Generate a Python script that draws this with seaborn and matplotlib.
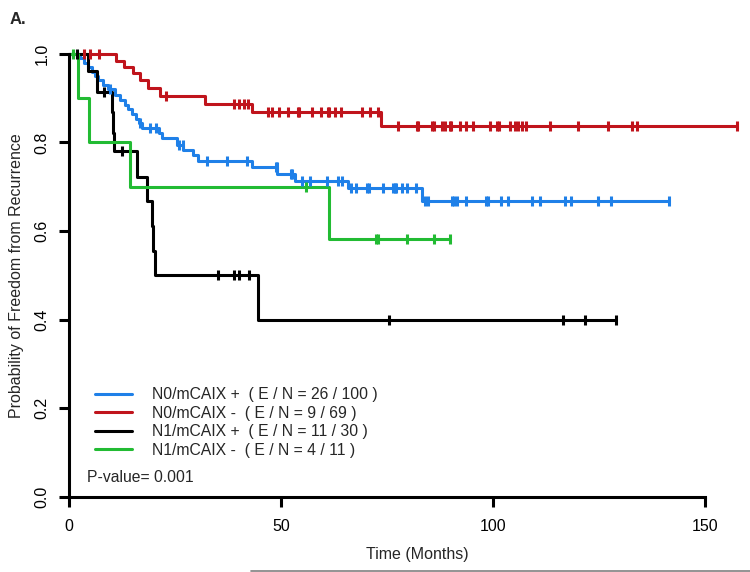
import numpy as np
import pandas as pd
import matplotlib
matplotlib.use('Agg')
import matplotlib.pyplot as plt
from matplotlib.lines import Line2D
import seaborn as sns

# Kaplan-Meier step data (months, survival after each event)
groups = ['N0/mCAIX +', 'N0/mCAIX -', 'N1/mCAIX +', 'N1/mCAIX -']
labels = ['N0/mCAIX +  ( E / N = 26 / 100 )',
          'N0/mCAIX -  ( E / N = 9 / 69 )',
          'N1/mCAIX +  ( E / N = 11 / 30 )',
          'N1/mCAIX -  ( E / N = 4 / 11 )']
colors = ['#1f80e8', '#c0141c', '#000000', '#22bb33']

blue_event_t = [2.5, 3.5, 4.5, 5.5, 6.2, 6.9, 8.0, 9.2, 10.8, 12.0, 13.2, 13.9, 14.9,
                15.8, 16.5, 17.1, 21.2, 22.0, 25.4, 27.0, 29.3, 30.5, 43.1, 49.1, 53.4,
                65.8, 83.2]
blue_event_s = [0.99, 0.98, 0.97, 0.96, 0.95, 0.94, 0.93, 0.92, 0.907, 0.896, 0.885,
                0.875, 0.864, 0.853, 0.843, 0.832, 0.821, 0.81, 0.795, 0.783, 0.772,
                0.758, 0.745, 0.730, 0.714, 0.697, 0.667]
blue_censor = [9.7, 16.7, 19.0, 20.6, 25.9, 26.8, 32.5, 37.2, 41.9, 48.8, 49.0, 52.3,
               52.6, 55.0, 56.8, 60.9, 63.5, 64.5, 66.6, 67.7, 70.4, 70.8, 74.0, 76.4,
               76.8, 77.2, 78.5, 79.6, 81.8, 84.0, 84.6, 90.3, 90.8, 91.5, 93.7, 98.4,
               98.9, 102.0, 103.6, 109.1, 111.1, 117.0, 118.4, 124.8, 127.8, 141.5]

red_event_t = [11.0, 13.0, 15.0, 16.7, 18.7, 21.5, 32.0, 43.1, 73.6]
red_event_s = [0.985, 0.971, 0.956, 0.941, 0.922, 0.905, 0.887, 0.868, 0.838]
red_censor = [3.5, 5.0, 7.0, 22.9, 38.8, 40.0, 41.2, 42.3, 47.0, 47.8, 49.6, 51.7,
              54.0, 54.3, 57.2, 59.5, 61.0, 61.3, 62.7, 64.2, 69.0, 71.0, 72.8, 77.7,
              82.0, 82.4, 85.7, 86.1, 87.9, 88.7, 89.8, 90.2, 92.1, 93.6, 95.2, 99.3,
              101.0, 101.4, 104.0, 105.2, 106.0, 106.8, 107.8, 113.4, 120.1, 127.2,
              132.7, 133.9, 157.6]

black_event_t = [4.5, 6.5, 10.1, 10.4, 10.7, 16.0, 18.3, 19.5, 19.7, 20.2, 44.6]
black_event_s = [0.962, 0.915, 0.868, 0.822, 0.78, 0.723, 0.667, 0.611, 0.556, 0.5, 0.4]
black_censor = [2.0, 8.3, 12.4, 35.1, 38.9, 40.1, 42.5, 75.5, 116.5, 121.7, 129.0]

green_event_t = [2.2, 4.8, 14.4, 61.3]
green_event_s = [0.9, 0.8, 0.7, 0.583]
green_censor = [1.0, 56.0, 72.4, 72.8, 79.6, 86.2, 89.8]

x_ticks = [0, 50, 100, 150]
y_ticks = [0.0, 0.2, 0.4, 0.6, 0.8, 1.0]
p_text = 'P-value= 0.001'


def km_frames(name, event_t, event_s, censor):
    end_t = max(censor[-1], event_t[-1])
    steps = pd.DataFrame({'time': [0.0] + event_t + [end_t],
                          'surv': [1.0] + event_s + [event_s[-1]],
                          'group': name})
    levels = np.array([1.0] + event_s)
    idx = np.searchsorted(event_t, censor, side='right')
    marks = pd.DataFrame({'time': censor, 'surv': levels[idx], 'group': name})
    return steps, marks


data = [(blue_event_t, blue_event_s, blue_censor),
        (red_event_t, red_event_s, red_censor),
        (black_event_t, black_event_s, black_censor),
        (green_event_t, green_event_s, green_censor)]

steps_all, marks_all = [], []
for name, (et, es, cz) in zip(groups, data):
    s, m = km_frames(name, et, es, cz)
    steps_all.append(s)
    marks_all.append(m)
steps_df = pd.concat(steps_all, ignore_index=True)
marks_df = pd.concat(marks_all, ignore_index=True)

sns.set_theme(style='white')
plt.rcParams['font.family'] = ['Liberation Sans', 'DejaVu Sans']

fig = plt.figure(figsize=(7.5, 5.72), dpi=100)
ax = fig.add_axes([69 / 750, 75 / 572, 678.4 / 750, 452 / 572])
palette = dict(zip(groups, colors))

sns.lineplot(data=steps_df, x='time', y='surv', hue='group', palette=palette,
             drawstyle='steps-post', estimator=None, sort=False, legend=False,
             lw=2.2, ax=ax, clip_on=False)
for name in groups:
    sub = marks_df[marks_df.group == name]
    ax.scatter(sub.time, sub.surv, marker='|', s=55, linewidths=2.2,
               color=palette[name], clip_on=False, zorder=3)

ax.set_xlim(0, 160)
ax.set_ylim(0, 1.02)
ax.spines['top'].set_visible(False)
ax.spines['right'].set_visible(False)
for side in ['left', 'bottom']:
    ax.spines[side].set_linewidth(2.2)
    ax.spines[side].set_color('black')
ax.spines['left'].set_bounds(0, 1)
ax.spines['bottom'].set_bounds(0, 150)

ax.set_xticks(x_ticks)
ax.set_xticklabels([str(v) for v in x_ticks])
ax.set_yticks(y_ticks)
ax.set_yticklabels(['%.1f' % v for v in y_ticks], rotation=90, va='center')
ax.tick_params(axis='both', which='major', direction='out', length=7, width=2.2,
               color='black', labelsize=11.5, labelcolor='black', bottom=True, left=True)
ax.tick_params(axis='x', pad=9)
ax.tick_params(axis='y', pad=7)

ax.set_xlabel('Time (Months)', fontsize=11.5)
ax.xaxis.set_label_coords(0.514, -0.11)
ax.set_ylabel('Probability of Freedom from Recurrence', fontsize=11.5)
ax.yaxis.set_label_coords(-0.066, 0.49)

handles = [Line2D([], [], color=c, lw=2.2) for c in colors]
ax.legend(handles, labels, loc='upper left', bbox_to_anchor=(0.038, 0.243),
          frameon=False, fontsize=11.3, handlelength=2.4, handletextpad=1.25,
          labelspacing=0.22, borderpad=0, borderaxespad=0)
ax.text(0.0265, 0.044, p_text, transform=ax.transAxes, fontsize=11.3, va='center')

fig.text(10 / 750, 1 - 20 / 572, 'A.', fontsize=12, fontweight='bold', va='center')
fig.add_artist(Line2D([251 / 750, 1.0], [1.5 / 572, 1.5 / 572], color='#808080', lw=1.2))

fig.savefig('out.png', dpi=100)
